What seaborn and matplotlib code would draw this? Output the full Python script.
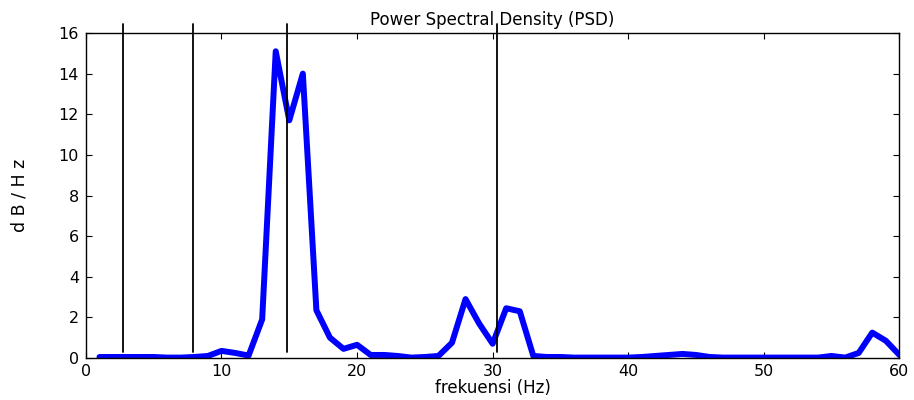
import numpy as np
import pandas as pd
import matplotlib
matplotlib.use("Agg")
import matplotlib.pyplot as plt
import seaborn as sns

# PSD values
freq = list(range(1, 61))
psd = [0.05, 0.05, 0.05, 0.05, 0.05, 0.02, 0.02, 0.05, 0.10, 0.35,
       0.25, 0.12, 1.90, 15.1, 11.7, 14.0, 2.35, 1.00, 0.45, 0.65,
       0.15, 0.15, 0.10, 0.02, 0.05, 0.10, 0.75, 2.90, 1.70, 0.70,
       2.45, 2.30, 0.10, 0.05, 0.05, 0.02, 0.02, 0.02, 0.02, 0.02,
       0.05, 0.10, 0.15, 0.20, 0.15, 0.05, 0.02, 0.02, 0.02, 0.02,
       0.02, 0.02, 0.02, 0.02, 0.10, 0.02, 0.25, 1.25, 0.85, 0.15]

# band boundary markers
band_edges = [2.7, 7.9, 14.8, 30.3]
band_low, band_high = 0.3, 16.45

sns.set_theme(style="ticks")
plt.rcParams['font.family'] = ['DejaVu Sans']
plt.rcParams['text.color'] = 'black'
plt.rcParams['axes.labelcolor'] = 'black'

df = pd.DataFrame({'freq': freq, 'psd': psd})

fig = plt.figure(figsize=(9.14, 4.0), dpi=100)
ax = fig.add_axes([0.094, 0.105, 0.89, 0.8125])

sns.lineplot(data=df, x='freq', y='psd', color='#0000ff', linewidth=4.3, ax=ax)
for xe in band_edges:
    ax.plot([xe, xe], [band_low, band_high], color='black', linewidth=1.3, clip_on=False)

ax.set_xlim(0, 60)
ax.set_ylim(0, 16)
ax.set_xticks(range(0, 61, 10))
ax.set_yticks(range(0, 17, 2))
ax.tick_params(direction='in', length=4, width=0.8, top=True, right=True,
               labelsize=11.5, colors='black')
ax.tick_params(axis='y', pad=5)
ax.tick_params(axis='x', pad=4)
for s in ax.spines.values():
    s.set_visible(True)
    s.set_linewidth(1.0)
    s.set_color('black')

ax.set_title("Power Spectral Density (PSD)", fontsize=12, pad=6, color='black')
ax.set_xlabel("frekuensi (Hz)", fontsize=12, labelpad=0)
ax.set_ylabel("d B / H z", fontsize=12.5, labelpad=22)

fig.savefig("out.png", dpi=100)
